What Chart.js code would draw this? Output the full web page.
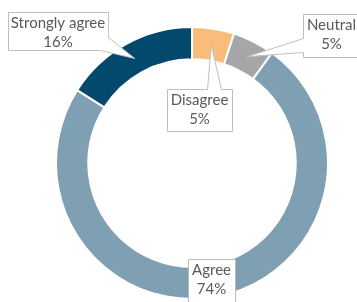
<!DOCTYPE html>
<html>
<head>
<meta charset="utf-8">
<script src="https://cdn.jsdelivr.net/npm/chart.js@4"></script>
<style>
  html, body { margin: 0; padding: 0; background: #fff; }
  #wrap { width: 357px; height: 302px; }
</style>
</head>
<body>
<div id="wrap"><canvas id="myChart" width="357" height="302"></canvas></div>
<script>
const categories = ["Disagree", "Neutral", "Agree", "Strongly agree"];
const shares = [5, 5, 74, 16];
const colors = ["#F9BD79", "#A6A6A8", "#7F9FB3", "#02496D"];

// callout boxes: [x, y, w, h] and where the wedge leaves the box
const callouts = [
  { box: [167, 89, 65, 42], wedge: { after: 0, a: [207, 89], b: [221, 89] } },
  { box: [303, 14, 57, 43], wedge: { after: 3, a: [303, 52], b: [303, 38] } },
  { box: [188, 259, 47, 50], wedge: null },
  { box: [8, 12, 100, 38], wedge: { after: 1, a: [108, 37], b: [100, 50], drop: 2 } },
];

const calloutPlugin = {
  id: "callouts",
  afterDatasetsDraw(chart) {
    const ctx = chart.ctx;
    const arcs = chart.getDatasetMeta(0).data;
    ctx.save();
    ctx.font = "15px Lato";
    ctx.textAlign = "center";
    ctx.textBaseline = "middle";
    arcs.forEach((arc, i) => {
      const c = callouts[i];
      const [x, y, w, h] = c.box;
      const corners = [[x, y], [x + w, y], [x + w, y + h], [x, y + h]];
      const pts = [];
      corners.forEach((p, k) => {
        if (c.wedge && c.wedge.drop === k) return;
        pts.push(p);
        if (c.wedge && c.wedge.after === k) {
          const tip = arc.tooltipPosition();
          pts.push(c.wedge.a, [tip.x, tip.y], c.wedge.b);
        }
      });
      ctx.beginPath();
      pts.forEach((p, k) => k ? ctx.lineTo(p[0] + 0.5, p[1] + 0.5) : ctx.moveTo(p[0] + 0.5, p[1] + 0.5));
      ctx.closePath();
      ctx.fillStyle = "#ffffff";
      ctx.fill();
      ctx.strokeStyle = "#BFBFBF";
      ctx.lineWidth = 1;
      ctx.stroke();
      ctx.fillStyle = "#595959";
      const cx = x + w / 2;
      ctx.fillText(categories[i], cx, y + 11);
      ctx.fillText(shares[i] + "%", cx, y + 30);
    });
    ctx.restore();
  }
};

new Chart(document.getElementById("myChart"), {
  type: "doughnut",
  data: {
    labels: categories,
    datasets: [{
      data: shares,
      backgroundColor: colors,
      borderColor: "#ffffff",
      borderWidth: 2,
    }],
  },
  options: {
    responsive: false,
    animation: false,
    radius: 136,
    cutout: 103,
    layout: { padding: { left: 56, right: 29, top: 27, bottom: 3 } },
    plugins: {
      legend: { display: false },
      tooltip: { enabled: false },
    },
  },
  plugins: [calloutPlugin],
});
</script>
</body>
</html>
